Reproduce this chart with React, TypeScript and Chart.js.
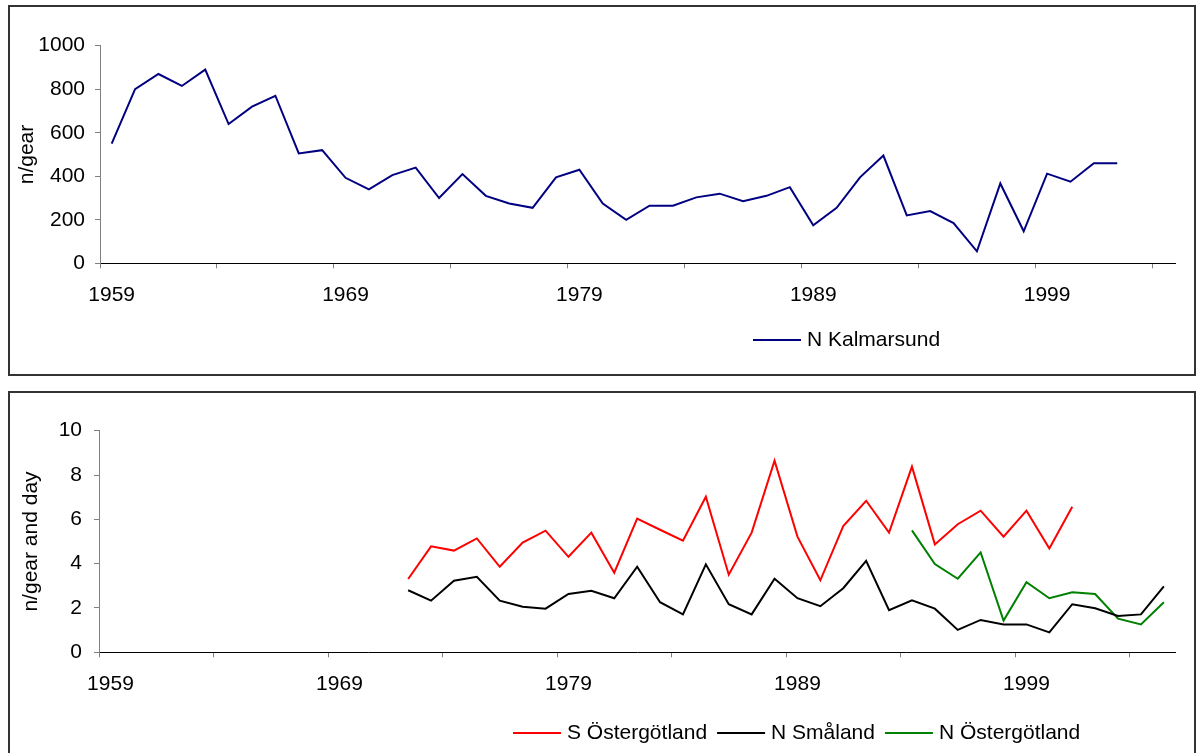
import React, { useEffect, useRef } from 'react';
import { Chart, registerables } from 'chart.js';

Chart.register(...registerables);

const FONT = '"Liberation Sans", Arial, Helvetica, sans-serif';

// Catch data: first year of each series followed by yearly values
const KALMARSUND_START = 1959;
const kalmarsund = [
  550, 800, 870, 815, 890, 640, 720, 770, 505, 520,
  393, 340, 405, 440, 300, 410, 310, 275, 255, 395,
  430, 275, 200, 265, 265, 303, 320, 285, 310, 350,
  175, 255, 395, 495, 220, 240, 185, 55, 367, 147,
  412, 375, 460, 460,
];

const S_OSTERGOTLAND_START = 1972;
const sOstergotland = [
  3.31, 4.78, 4.59, 5.14, 3.86, 4.95, 5.49, 4.31, 5.4, 3.59,
  6.03, 5.53, 5.04, 7.02, 3.5, 5.4, 8.65, 5.22, 3.25, 5.7,
  6.84, 5.4, 8.38, 4.87, 5.78, 6.39, 5.22, 6.39, 4.68, 6.57,
];

const N_SMALAND_START = 1972;
const nSmaland = [
  2.8, 2.33, 3.23, 3.41, 2.33, 2.06, 1.97, 2.63, 2.78, 2.44,
  3.86, 2.26, 1.71, 3.97, 2.17, 1.71, 3.32, 2.44, 2.08, 2.89,
  4.13, 1.9, 2.35, 1.97, 1.01, 1.46, 1.26, 1.26, 0.9, 2.17,
  1.99, 1.64, 1.71, 2.98,
];

const N_OSTERGOTLAND_START = 1994;
const nOstergotland = [
  5.5, 3.98, 3.32, 4.51, 1.43, 3.16, 2.44, 2.71, 2.63, 1.52,
  1.26, 2.26,
];

// Category axes (one label per year, a caption every tenth year)
const TOP_FIRST_YEAR = 1959;
const TOP_LAST_YEAR = 2004;
const BOTTOM_FIRST_YEAR = 1959;
const BOTTOM_LAST_YEAR = 2005;

const TOP_Y_TICKS = { min: 0, max: 1000, step: 200 };
const BOTTOM_Y_TICKS = { min: 0, max: 10, step: 2 };

function yearLabels(first: number, last: number): string[] {
  const out: string[] = [];
  for (let y = first; y <= last; y++) out.push(String(y));
  return out;
}

function alignToYears(labels: string[], start: number, values: number[]) {
  return labels.map((l) => {
    const v = values[Number(l) - start];
    return v === undefined ? null : v;
  });
}

type SeriesDef = { label: string; color: string; start: number; values: number[] };

type PanelProps = {
  labels: string[];
  series: SeriesDef[];
  yTicks: { min: number; max: number; step: number };
  yTitle: string;
  width: number;
  height: number;
  areaLeft: number;
  areaTop: number;
  areaBottom: number;
  padRight: number;
  yLabelPad: number;
  yTitlePad: number;
  legendX: number;
  legendY: number;
};

function legendPlugin(x0: number, y0: number) {
  return {
    id: 'lineLegend',
    afterDraw(chart: any) {
      const ctx = chart.ctx as CanvasRenderingContext2D;
      ctx.save();
      ctx.font = `21px ${FONT}`;
      ctx.textBaseline = 'middle';
      ctx.textAlign = 'left';
      let x = x0;
      for (const ds of chart.data.datasets) {
        ctx.strokeStyle = ds.borderColor;
        ctx.lineWidth = 2;
        ctx.beginPath();
        ctx.moveTo(x, y0);
        ctx.lineTo(x + 48, y0);
        ctx.stroke();
        x += 48 + 6;
        ctx.fillStyle = '#000000';
        ctx.fillText(ds.label, x, y0);
        x += ctx.measureText(ds.label).width + 10;
      }
      ctx.restore();
    },
  };
}

function Panel(p: PanelProps) {
  const ref = useRef<HTMLCanvasElement | null>(null);

  useEffect(() => {
    if (!ref.current) return;
    const chart = new Chart(ref.current, {
      type: 'line',
      data: {
        labels: p.labels,
        datasets: p.series.map((s) => ({
          label: s.label,
          data: alignToYears(p.labels, s.start, s.values),
          borderColor: s.color,
          backgroundColor: s.color,
          borderWidth: 2,
          pointRadius: 0,
          pointHoverRadius: 0,
          tension: 0,
          spanGaps: false,
          fill: false,
        })),
      },
      options: {
        responsive: false,
        animation: false,
        events: [],
        layout: {
          padding: { left: 0, top: p.areaTop, right: p.padRight, bottom: 0 },
        },
        plugins: {
          legend: { display: false },
          title: { display: false },
          tooltip: { enabled: false },
        },
        scales: {
          x: {
            type: 'category',
            offset: true,
            afterFit: (s: any) => {
              s.height = p.height - p.areaBottom;
            },
            grid: {
              offset: true,
              drawOnChartArea: false,
              drawTicks: true,
              tickLength: 5,
              lineWidth: 1,
              tickColor: (ctx: any) =>
                typeof ctx.index === 'number' && ctx.index % 5 === 0 ? '#808080' : 'rgba(0,0,0,0)',
            },
            border: { display: true, color: '#000000', width: 1 },
            ticks: {
              autoSkip: false,
              maxRotation: 0,
              minRotation: 0,
              padding: 14,
              color: '#000000',
              font: { family: FONT, size: 21 },
              callback: (_v: any, i: number) => (i % 10 === 0 ? p.labels[i] : ''),
            },
          },
          y: {
            min: p.yTicks.min,
            max: p.yTicks.max,
            afterFit: (s: any) => {
              s.width = p.areaLeft;
            },
            grid: {
              drawOnChartArea: false,
              drawTicks: true,
              tickLength: 5,
              tickColor: '#808080',
            },
            border: { display: true, color: '#808080', width: 1 },
            ticks: {
              stepSize: p.yTicks.step,
              padding: p.yLabelPad,
              color: '#000000',
              font: { family: FONT, size: 21 },
              callback: (v: any) => String(v),
            },
            title: {
              display: true,
              text: p.yTitle,
              color: '#000000',
              font: { family: FONT, size: 21 },
              padding: { top: p.yTitlePad, bottom: 0 },
            },
          },
        },
      },
      plugins: [legendPlugin(p.legendX, p.legendY)],
    } as any);
    return () => chart.destroy();
  }, []);

  return (
    <canvas
      ref={ref}
      width={p.width}
      height={p.height}
      style={{ display: 'block', width: p.width, height: p.height }}
    />
  );
}

const boxStyle: React.CSSProperties = {
  position: 'absolute',
  left: 8,
  width: 1188,
  boxSizing: 'border-box',
  border: '2px solid #333333',
  background: '#ffffff',
  overflow: 'hidden',
};

export default function App() {
  const topLabels = yearLabels(TOP_FIRST_YEAR, TOP_LAST_YEAR);
  const bottomLabels = yearLabels(BOTTOM_FIRST_YEAR, BOTTOM_LAST_YEAR);

  return (
    <div
      style={{
        position: 'absolute',
        left: 0,
        top: 0,
        width: 1204,
        height: 753,
        overflow: 'hidden',
        background: '#ffffff',
        fontFamily: FONT,
      }}
    >
      <div style={{ ...boxStyle, top: 5, height: 371 }}>
        <Panel
          labels={topLabels}
          series={[
            { label: 'N Kalmarsund', color: '#000080', start: KALMARSUND_START, values: kalmarsund },
          ]}
          yTicks={TOP_Y_TICKS}
          yTitle="n/gear"
          width={1184}
          height={367}
          areaLeft={90}
          areaTop={38.7}
          areaBottom={256.3}
          padRight={18.3}
          yLabelPad={10}
          yTitlePad={5}
          legendX={743}
          legendY={333}
        />
      </div>
      <div style={{ ...boxStyle, top: 391, height: 400 }}>
        <Panel
          labels={bottomLabels}
          series={[
            { label: 'S Östergötland', color: '#ff0000', start: S_OSTERGOTLAND_START, values: sOstergotland },
            { label: 'N Småland', color: '#000000', start: N_SMALAND_START, values: nSmaland },
            { label: 'N Östergötland', color: '#008000', start: N_OSTERGOTLAND_START, values: nOstergotland },
          ]}
          yTicks={BOTTOM_Y_TICKS}
          yTitle="n/gear and day"
          width={1184}
          height={360}
          areaLeft={89}
          areaTop={37.7}
          areaBottom={259.3}
          padRight={18.7}
          yLabelPad={12}
          yTitlePad={9}
          legendX={503}
          legendY={340}
        />
      </div>
    </div>
  );
}
